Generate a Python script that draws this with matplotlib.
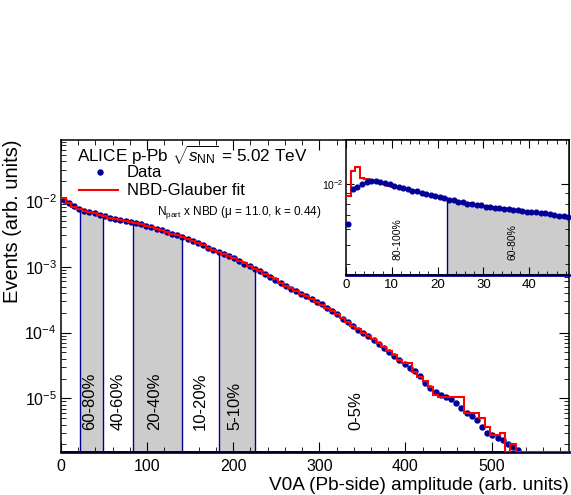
"""ALICE p-Pb V0A amplitude distribution with NBD-Glauber fit and centrality classes."""
import numpy as np
import matplotlib
matplotlib.use("Agg")
import matplotlib.pyplot as plt
from matplotlib.ticker import LogLocator, LogFormatterMathtext, NullFormatter, MultipleLocator

plt.rcParams["font.family"] = ["Liberation Sans", "DejaVu Sans"]
plt.rcParams["mathtext.fontset"] = "custom"
plt.rcParams["mathtext.rm"] = "Liberation Sans"
plt.rcParams["mathtext.it"] = "Liberation Sans:italic"
plt.rcParams["mathtext.bf"] = "Liberation Sans:bold"

# main panel: 6-unit bins, log10 of events (arb. units)
BIN_W = 6
DATA_LOG = [
    -1.99, -2.03, -2.08, -2.12, -2.145, -2.167, -2.19, -2.21, -2.233, -2.255,
    -2.278, -2.293, -2.308, -2.322, -2.338, -2.356, -2.375, -2.40, -2.42, -2.445,
    -2.47, -2.495, -2.52, -2.546, -2.578, -2.61, -2.643, -2.676, -2.709, -2.742,
    -2.775, -2.806, -2.836, -2.872, -2.912, -2.953, -2.993, -3.032, -3.071, -3.111,
    -3.150, -3.197, -3.245, -3.292, -3.335, -3.374, -3.413, -3.452, -3.493, -3.533,
    -3.572, -3.62, -3.67, -3.725, -3.79, -3.845, -3.90, -3.955, -4.005, -4.055,
    -4.11, -4.17, -4.23, -4.29, -4.355, -4.42, -4.48, -4.54, -4.59, -4.66,
    -4.77, -4.85, -4.91, -4.95, -4.98, -5.01, -5.07, -5.15, -5.22, -5.27,
    -5.33, -5.44, -5.52, -5.56, -5.60, -5.64, -5.69, -5.74, -5.79,
]
# NBD-Glauber fit, same binning; -9 marks empty bins
FIT_LOG = [
    -1.95, -2.035, -2.085, -2.12, -2.145, -2.17, -2.19, -2.21, -2.235, -2.255,
    -2.275, -2.29, -2.305, -2.32, -2.34, -2.355, -2.375, -2.40, -2.42, -2.445,
    -2.47, -2.495, -2.52, -2.55, -2.58, -2.61, -2.64, -2.675, -2.71, -2.74,
    -2.775, -2.805, -2.835, -2.87, -2.91, -2.95, -2.99, -3.03, -3.07, -3.11,
    -3.15, -3.19, -3.24, -3.29, -3.33, -3.37, -3.41, -3.45, -3.49, -3.53,
    -3.575, -3.62, -3.665, -3.72, -3.785, -3.84, -3.895, -3.95, -4.0, -4.05,
    -4.105, -4.16, -4.22, -4.28, -4.34, -4.41, -4.47, -4.47, -4.6, -4.67,
    -4.74, -4.83, -4.95, -4.975, -4.975, -4.975, -4.975, -4.975, -5.23, -5.23,
    -5.23, -5.30, -5.43, -5.55, -5.55, -5.53, -9, -5.70, -9, -9,
    -9, -9, -9, -9, -9, -9, -9, -9, -9,
]
# inset: 1-unit bins from 0 to 49
INSET_DATA_LOG = [
    -2.200, -2.021, -2.011, -1.996, -1.989, -1.983, -1.984, -1.988, -1.991, -1.997,
    -2.006, -2.012, -2.020, -2.024, -2.032, -2.035, -2.042, -2.046, -2.053, -2.057,
    -2.064, -2.067, -2.076, -2.080, -2.089, -2.090, -2.097, -2.098, -2.104, -2.105,
    -2.111, -2.112, -2.118, -2.119, -2.124, -2.125, -2.130, -2.130, -2.135, -2.136,
    -2.140, -2.140, -2.145, -2.145, -2.150, -2.151, -2.156, -2.157, -2.162,
]
INSET_FIT_LOG = [
    -2.060, -1.935, -1.913, -1.967, -1.975, -1.980, -1.988, -1.994, -2.000, -2.006,
    -2.012, -2.017, -2.023, -2.028, -2.034, -2.039, -2.044, -2.049, -2.054, -2.059,
    -2.064, -2.069, -2.075, -2.081, -2.086, -2.090, -2.095, -2.099, -2.102, -2.106,
    -2.109, -2.113, -2.116, -2.119, -2.122, -2.125, -2.128, -2.131, -2.134, -2.137,
    -2.139, -2.142, -2.145, -2.148, -2.151, -2.154, -2.157, -2.163, -2.163,
]

# centrality class boundaries in V0A amplitude
SHADED = [(22, 49), (84, 140), (184, 225)]
CLASS_LABELS = ["60-80%", "40-60%", "20-40%", "10-20%", "5-10%", "0-5%"]
CLASS_LABEL_X = [33, 66, 109, 162, 202, 343]
INSET_LABELS = ["80-100%", "60-80%"]
INSET_LABEL_X = [11.2, 36.4]

BLUE = "#000099"
RED = "#ff0000"
GREY = "#cccccc"

YMIN, YMAX = 1.53e-6, 0.0845
IYMIN, IYMAX = 3.52e-3, 0.01665


def band(edges, vals, lo, hi):
    inner = edges[(edges > lo) & (edges < hi)]
    xs = np.concatenate([[lo], inner, [hi]])
    idx = np.clip(np.searchsorted(edges, xs, side="right") - 1, 0, len(vals) - 1)
    ys = vals[idx]
    ys[-1] = vals[np.clip(np.searchsorted(edges, hi, side="left") - 1, 0, len(vals) - 1)]
    return xs, ys


def style(ax, major, minor, size):
    ax.tick_params(which="both", direction="in", top=True, right=True, labelsize=size)
    ax.tick_params(which="major", length=major)
    ax.tick_params(which="minor", length=minor)
    for s in ax.spines.values():
        s.set_linewidth(1.1)


fig = plt.figure(figsize=(5.71, 4.95), dpi=100)
ax = fig.add_axes([0.1068, 0.0869, 0.8897, 0.6303])

data = 10.0 ** np.array(DATA_LOG)
fit = np.maximum(10.0 ** np.array(FIT_LOG), YMIN)
edges = np.arange(len(DATA_LOG) + 1) * BIN_W
fit_edges = np.arange(len(FIT_LOG) + 1) * BIN_W
centers = 0.5 * (edges[:-1] + edges[1:])

for lo, hi in SHADED:
    xs, ys = band(edges, data, lo, hi)
    ax.fill_between(xs, YMIN, ys, step="post", color=GREY, lw=0, zorder=1)
    ax.vlines([lo, hi], YMIN, [ys[0], ys[-1]], color=BLUE, lw=1.0, zorder=2)

ax.axhline(YMIN, color=BLUE, lw=2.0, zorder=2, clip_on=False)
ax.plot(centers, data, "o", ms=3.6, color=BLUE, mec=BLUE, zorder=3)
ax.stairs(fit, fit_edges, baseline=None, color=RED, lw=1.5, zorder=4)

for lab, x in zip(CLASS_LABELS, CLASS_LABEL_X):
    ax.text(x, 3.3e-6, lab, rotation=90, ha="center", va="bottom", fontsize=12)

ax.set_xlim(0, 590)
ax.set_yscale("log")
ax.set_ylim(YMIN, YMAX)
ax.xaxis.set_major_locator(MultipleLocator(100))
ax.xaxis.set_minor_locator(MultipleLocator(20))
ax.yaxis.set_major_locator(LogLocator(base=10))
ax.yaxis.set_minor_locator(LogLocator(base=10, subs=np.arange(2, 10)))
ax.yaxis.set_major_formatter(LogFormatterMathtext())
ax.yaxis.set_minor_formatter(NullFormatter())
style(ax, 7.5, 3.8, 11.5)
ax.tick_params(axis="x", pad=5)
ax.tick_params(axis="y", pad=3)
ax.set_xlabel("V0A (Pb-side) amplitude (arb. units)", fontsize=13.7, loc="right", labelpad=2)
ax.set_ylabel("Events (arb. units)", fontsize=14.5, loc="top", labelpad=2)

# header and legend
ax.text(0.0315, 0.952, r"ALICE p-Pb $\sqrt{s_{\rm NN}}$ = 5.02 TeV", transform=ax.transAxes,
        fontsize=12.3, va="center", ha="left")
ax.plot([0.077], [0.897], "o", ms=3.6, color=BLUE, transform=ax.transAxes, clip_on=False)
ax.text(0.13, 0.895, "Data", transform=ax.transAxes, fontsize=12, va="center")
ax.plot([0.035, 0.112], [0.84, 0.84], color=RED, lw=1.5, transform=ax.transAxes)
ax.text(0.13, 0.838, "NBD-Glauber fit", transform=ax.transAxes, fontsize=12, va="center")
ax.text(0.189, 0.766, "N$_{\\rm part}$ x NBD (\u03bc = 11.0, k = 0.44)", transform=ax.transAxes,
        fontsize=8.5, va="center")

# inset: low-amplitude zoom
ins = fig.add_axes([0.606, 0.4444, 0.3905, 0.2727])
ins.set_facecolor("white")
idata = 10.0 ** np.array(INSET_DATA_LOG)
ifit = 10.0 ** np.array(INSET_FIT_LOG)
iedges = np.arange(len(INSET_DATA_LOG) + 1, dtype=float)
icenters = iedges[:-1] + 0.5

xs, ys = band(iedges, idata, 22, 49)
ins.fill_between(xs, IYMIN, ys, step="post", color=GREY, lw=0, zorder=1)
ins.vlines([22], IYMIN, [ys[0]], color=BLUE, lw=1.0, zorder=2)
ins.axhline(IYMIN, color=BLUE, lw=2.0, zorder=2, clip_on=False)
ins.stairs(ifit, iedges, baseline=None, color=RED, lw=1.5, zorder=3)
ins.plot(icenters, idata, "o", ms=3.4, color=BLUE, mec=BLUE, zorder=4, clip_on=False)
for lab, x in zip(INSET_LABELS, INSET_LABEL_X):
    ins.text(x, 4.18e-3, lab, rotation=90, ha="center", va="bottom", fontsize=7.5)

ins.set_xlim(0, 48.7)
ins.set_yscale("log")
ins.set_ylim(IYMIN, IYMAX)
ins.xaxis.set_major_locator(MultipleLocator(10))
ins.xaxis.set_minor_locator(MultipleLocator(2))
ins.yaxis.set_major_locator(LogLocator(base=10))
ins.yaxis.set_minor_locator(LogLocator(base=10, subs=np.arange(2, 10)))
ins.yaxis.set_major_formatter(LogFormatterMathtext())
ins.yaxis.set_minor_formatter(NullFormatter())
style(ins, 6, 3, 9.5)
ins.tick_params(axis="y", labelsize=7.5, pad=2)
ins.tick_params(axis="x", pad=3)

fig.savefig("out.png", dpi=100)
